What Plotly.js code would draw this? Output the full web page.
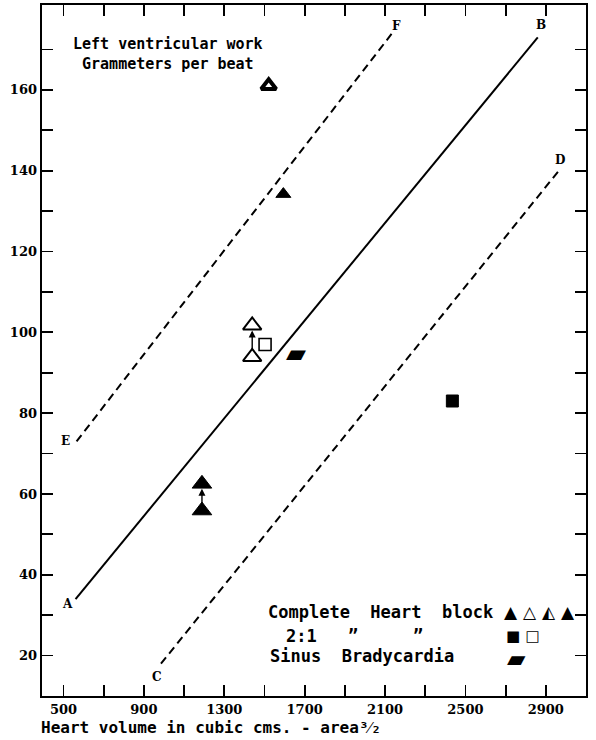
<!DOCTYPE html>
<html><head><meta charset="utf-8">
<script src="https://cdn.plot.ly/plotly-3.0.1.min.js"></script>
<style>html,body{margin:0;padding:0;background:#fff}</style>
</head><body><div id="chart" style="width:596px;height:740px"></div>
<script>
// Reference lines
const lineAB_x = [560, 2860], lineAB_y = [34, 173];
const lineEF_x = [565, 2135], lineEF_y = [73, 174];
const lineCD_x = [985, 2965], lineCD_y = [18, 140];
// Complete heart block
const cbFilledX = [1189, 1189, 1594], cbFilledY = [55.9, 62.5, 134.2];
const cbOpenX = [1439, 1439], cbOpenY = [93.9, 101.7];
const cbThickX = [1521], cbThickY = [161];
// 2:1 block
const r21FilledX = [2435], r21FilledY = [83];
const r21OpenX = [1503], r21OpenY = [97];
// Sinus bradycardia
const sinusX = [1657], sinusY = [94.2];
// Ticks
const xTickVals = [500,700,900,1100,1300,1500,1700,1900,2100,2300,2500,2700,2900];
const xTickText = ['500','','900','','1300','','1700','','2100','','2500','','2900'];
const yTickVals = [20,30,40,50,60,70,80,90,100,110,120,130,140,150,160,170];
const yTickText = ['20','','40','','60','','80','','100','','120','','140','','160',''];

const lettering = 'DejaVu Sans Mono';
const black = '#000';
const bold = s => s ? '<b>' + s + '</b>' : '';

const traces = [
  {x: lineAB_x, y: lineAB_y, mode: 'lines', line: {color: black, width: 2}},
  {x: lineEF_x, y: lineEF_y, mode: 'lines', line: {color: black, width: 2, dash: '8px,5px'}},
  {x: lineCD_x, y: lineCD_y, mode: 'lines', line: {color: black, width: 2, dash: '8px,5px'}},
  {x: cbFilledX, y: cbFilledY, mode: 'markers',
   marker: {symbol: 'triangle-up', size: [17, 17, 13], opacity: 1, color: black, line: {color: black, width: 1}}},
  {x: cbOpenX, y: cbOpenY, mode: 'markers',
   marker: {symbol: 'triangle-up-open', size: 16, opacity: 1, color: black, line: {color: black, width: 2}}},
  {x: cbThickX, y: cbThickY, mode: 'markers',
   marker: {symbol: 'triangle-up-open', size: 13, opacity: 1, color: black, line: {color: black, width: 4}}},
  {x: r21FilledX, y: r21FilledY, mode: 'markers',
   marker: {symbol: 'square', size: 12, opacity: 1, color: black, line: {color: black, width: 1}}},
  {x: r21OpenX, y: r21OpenY, mode: 'markers',
   marker: {symbol: 'square-open', size: 12, opacity: 1, color: black, line: {color: black, width: 1.6}}},
  {x: sinusX, y: sinusY, mode: 'text', text: ['\u25B0'], textposition: 'middle center',
   textfont: {family: 'DejaVu Sans', size: 26, color: black}}
];

function lbl(x, y, t, xs, ys) {
  return {x: x, y: y, xref: 'x', yref: 'y', text: '<b>' + t + '</b>', showarrow: false, xshift: xs, yshift: ys,
    font: {family: 'DejaVu Serif', size: 12, color: black}};
}
function arrow(x, y0, y1) {
  return {x: x, y: y1, ax: x, ay: y0, xref: 'x', yref: 'y', axref: 'x', ayref: 'y', text: '',
    showarrow: true, arrowhead: 2, arrowsize: 1, arrowwidth: 1.4, arrowcolor: black,
    standoff: 5, startstandoff: 6};
}
function ptxt(x, y, t, size, anchor, fam) {
  return {x: x, y: y, xref: 'paper', yref: 'paper', text: t, showarrow: false,
    xanchor: anchor || 'left', yanchor: 'middle',
    font: {family: fam || lettering, size: size, color: black, weight: 700}};
}

const annotations = [
  lbl(lineAB_x[0], lineAB_y[0], 'A', -8, -5),
  lbl(lineAB_x[1], lineAB_y[1], 'B', 3, 12),
  lbl(lineEF_x[0], lineEF_y[0], 'E', -11, 0),
  lbl(lineEF_x[1], lineEF_y[1], 'F', 4, 7),
  lbl(lineCD_x[0], lineCD_y[0], 'C', -4, -13),
  lbl(lineCD_x[1], lineCD_y[1], 'D', 1, 11),
  arrow(cbOpenX[0], cbOpenY[0], cbOpenY[1]),
  arrow(cbFilledX[0], cbFilledY[0], cbFilledY[1]),
  ptxt(0.232, 0.929, 'Left ventricular work<br>Grammeters per beat', 15, 'center'),
  ptxt(0.411, 0.1216, 'Complete  Heart  block', 17),
  ptxt(0.846, 0.1216, '\u25B2 \u25B3 \u25ED \u25B2', 17, 'left', 'DejaVu Sans'),
  ptxt(0.445, 0.0875, '2:1', 17),
  ptxt(0.571, 0.0875, '\u201D', 17, 'center'),
  ptxt(0.692, 0.0875, '\u201D', 17, 'center'),
  ptxt(0.849, 0.0875, '\u25A0 \u25A1', 15, 'left', 'DejaVu Sans'),
  ptxt(0.416, 0.058, 'Sinus  Bradycardia', 17),
  ptxt(0.872, 0.054, '\u25B0', 24, 'center', 'DejaVu Sans'),
  {x: -0.005, y: -0.045, xref: 'paper', yref: 'paper', text: 'Heart volume in cubic cms. - area\u00B3\u2044\u2082',
   showarrow: false, xanchor: 'left', yanchor: 'middle',
   font: {family: lettering, size: 16, color: black, weight: 700}}
];

const axisCommon = {
  showgrid: false, zeroline: false, showline: true, linecolor: black, linewidth: 2.4,
  mirror: 'ticks', ticks: 'inside', ticklen: 11, tickwidth: 1.8, tickcolor: black,
  tickmode: 'array',
  tickfont: {family: 'DejaVu Serif', size: 13, color: black}
};

const layout = {
  width: 596, height: 740,
  margin: {l: 42, r: 10, t: 5, b: 44},
  paper_bgcolor: '#fff', plot_bgcolor: '#fff',
  showlegend: false,
  xaxis: Object.assign({}, axisCommon, {range: [393, 3100], tickvals: xTickVals, ticktext: xTickText.map(bold)}),
  yaxis: Object.assign({}, axisCommon, {range: [10, 181], tickvals: yTickVals, ticktext: yTickText.map(bold)}),
  annotations: annotations
};

Plotly.newPlot('chart', traces, layout, {displayModeBar: false, staticPlot: true});
</script></body></html>
